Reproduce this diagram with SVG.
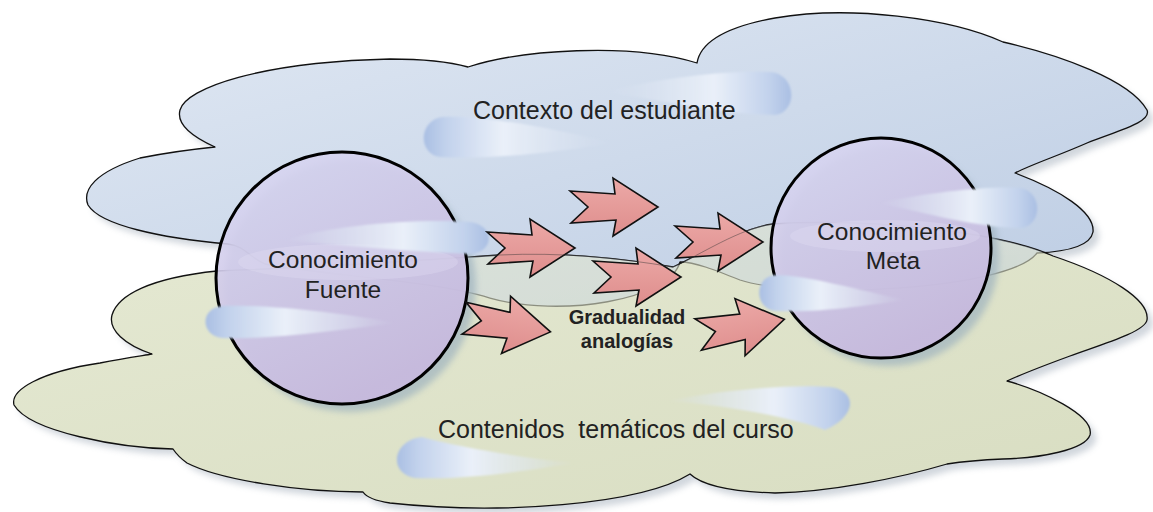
<svg xmlns="http://www.w3.org/2000/svg" width="1153" height="512" viewBox="0 0 1153 512">
<defs>
<style>
.outline{stroke:#111;stroke-width:1.3;stroke-linejoin:round}
.txt{font-family:"Liberation Sans",Arial,sans-serif;fill:#222;font-size:25px}
.lbl{font-family:"Liberation Sans",Arial,sans-serif;fill:#222;font-size:24.5px;text-anchor:middle}
.bold{font-family:"Liberation Sans",Arial,sans-serif;fill:#222;font-size:20px;font-weight:bold;text-anchor:middle}
.arrow{fill:url(#gArrow);stroke:#111;stroke-width:1.6;stroke-linejoin:miter}
.sphere{stroke:#000;stroke-width:3;fill:url(#gSphere)}
.shadow{fill:#9aa6b4;opacity:0.45}
.sphshadow{fill:#9fb3bf;opacity:0.7}
.swL{fill:url(#gSwL);filter:url(#soft)}
.swR{fill:url(#gSwR);filter:url(#soft)}
</style>
<linearGradient id="gBlue" x1="0" y1="0" x2="1" y2="1">
<stop offset="0" stop-color="#e0e8f3"/><stop offset="1" stop-color="#bccce3"/>
</linearGradient>
<linearGradient id="gGreen" x1="0" y1="0" x2="1" y2="1">
<stop offset="0" stop-color="#e5e9d3"/><stop offset="1" stop-color="#d8ddc1"/>
</linearGradient>
<linearGradient id="gSphere" x1="0" y1="0" x2="0.5" y2="1">
<stop offset="0" stop-color="#d9d9f3"/><stop offset="1" stop-color="#c8b9df"/>
</linearGradient>
<linearGradient id="gArrow" x1="0" y1="0" x2="0" y2="1">
<stop offset="0" stop-color="#eca9a7"/><stop offset="1" stop-color="#de8d8c"/>
</linearGradient>
<linearGradient id="gSwL" x1="0" y1="0" x2="1" y2="0">
<stop offset="0" stop-color="#aabfe3"/><stop offset="0.12" stop-color="#c2d2ec"/><stop offset="0.42" stop-color="#eaf0f9"/><stop offset="0.75" stop-color="#dfe7f3" stop-opacity="0.5"/><stop offset="1" stop-color="#d8e1f0" stop-opacity="0"/>
</linearGradient>
<linearGradient id="gSwR" x1="1" y1="0" x2="0" y2="0">
<stop offset="0" stop-color="#aabfe3"/><stop offset="0.12" stop-color="#c2d2ec"/><stop offset="0.42" stop-color="#eaf0f9"/><stop offset="0.75" stop-color="#dfe7f3" stop-opacity="0.5"/><stop offset="1" stop-color="#d8e1f0" stop-opacity="0"/>
</linearGradient>
<filter id="blur3" x="-10%" y="-10%" width="120%" height="120%"><feGaussianBlur stdDeviation="3"/></filter>
<filter id="soft" x="-10%" y="-30%" width="120%" height="160%"><feGaussianBlur stdDeviation="1"/></filter>
<path id="pBlue" d="M215,147 C195,138 176,125 180,110 C186,88 260,62 390,59 C420,59 450,62 468,67 C520,50 630,42 697,63 C700,45 720,28 775,18 C850,5 950,18 1003,42 C1060,55 1130,80 1147,110 C1152,122 1120,130 1087,143 C1060,155 1030,165 1015,173 C1060,190 1095,212 1093,232 C1090,248 1060,252 1037,253 C1010,290 800,300 740,280 C715,270 695,262 680,262 C670,300 560,318 490,298 C430,280 320,275 265,264 C250,258 245,246 228,244 C160,238 100,225 88,205 C82,190 95,172 140,158 C170,152 195,149 215,147 Z"/>
<path id="pGreen" d="M217,271 C300,268 400,262 500,255 C560,252 620,258 673,267 C700,255 740,228 773,224 C870,218 1000,232 1053,256 C1110,275 1150,300 1147,320 C1145,332 1100,345 1070,356 C1040,367 1020,375 1007,381 C1040,390 1095,415 1090,435 C1085,450 1040,458 1003,459 C980,460 960,462 947,464 C900,478 830,492 775,493 C740,492 705,488 690,474 C640,505 500,515 390,503 C370,500 365,495 363,492 C300,492 220,480 187,463 C180,458 175,452 173,449 C120,448 30,432 14,405 C10,390 40,372 100,363 C125,358 140,356 152,354 C125,345 108,330 112,315 C118,295 150,278 217,271 Z"/>
<clipPath id="clipGreen"><use href="#pGreen"/></clipPath>
<path id="arr" d="M-44,-16 L1,-13 L-1,-29 L44,0 L-1,29 L2,13 L-43,16 L-26,0 Z"/>
</defs>

<g id="cloud-context">
<use href="#pBlue" class="shadow" transform="translate(6,6)" filter="url(#blur3)"/>
<use href="#pBlue" fill="url(#gBlue)" class="outline"/>
<path class="swR" d="M606,92 C650,80 720,70 770,72 C797,74 798,112 775,115 C720,114 660,100 606,92 Z"/>
<path class="swL" d="M612,143 C560,130 480,114 442,117 C418,121 418,154 440,157 C500,160 570,150 612,143 Z"/>
<text class="txt" x="473" y="119">Contexto del estudiante</text>
</g>

<g id="cloud-contents">
<use href="#pGreen" class="shadow" transform="translate(6,6)" filter="url(#blur3)"/>
<use href="#pGreen" fill="url(#gGreen)" class="outline"/>
<use href="#pBlue" fill="url(#gBlue)" class="outline" opacity="0.4" clip-path="url(#clipGreen)"/>
<path class="swR" d="M668,401 C720,390 790,384 830,387 C857,390 858,416 825,430 C800,420 730,405 668,401 Z"/>
<path class="swL" d="M575,463 C520,458 450,445 422,437 C392,440 388,474 415,478 C470,480 530,470 575,463 Z"/>
<text class="txt" x="438" y="438" xml:space="preserve" style="white-space:pre">Contenidos  temáticos del curso</text>
</g>

<g id="sphere-source">
<circle class="sphshadow" cx="350" cy="286" r="126" filter="url(#blur3)"/>
<circle class="sphere" cx="342" cy="278" r="126" fill-opacity="0.9"/>
<ellipse cx="348" cy="262" rx="110" ry="18" fill="#e4e0f6" opacity="0.3"/>
<path class="swR" d="M285,240 C330,225 420,218 470,222 C495,225 495,252 470,254 C420,252 340,246 285,240 Z"/>
<path class="swL" d="M395,323 C340,312 260,304 222,306 C200,308 200,335 222,338 C270,340 340,330 395,323 Z"/>
<text class="lbl" x="343" y="268">Conocimiento</text>
<text class="lbl" x="343" y="298">Fuente</text>
</g>

<g id="sphere-target">
<circle class="sphshadow" cx="889" cy="256" r="110" filter="url(#blur3)"/>
<circle class="sphere" cx="881" cy="248" r="110" fill-opacity="0.9"/>
<ellipse cx="885" cy="236" rx="95" ry="16" fill="#e4e0f6" opacity="0.3"/>
<path class="swR" d="M880,203 C930,192 990,186 1020,188 C1043,191 1043,226 1020,228 C980,228 920,212 880,203 Z"/>
<path class="swL" d="M905,300 C860,290 800,274 775,275 C754,277 754,308 775,311 C820,313 870,305 905,300 Z"/>
<text class="lbl" x="892" y="240">Conocimiento</text>
<text class="lbl" x="893" y="269">Meta</text>
</g>

<g id="connectors">
<use href="#arr" class="arrow" transform="translate(531,248)"/>
<use href="#arr" class="arrow" transform="translate(614,207)"/>
<use href="#arr" class="arrow" transform="translate(637,277)"/>
<use href="#arr" class="arrow" transform="translate(719,242)"/>
<use href="#arr" class="arrow" transform="translate(507,325) rotate(9)"/>
<use href="#arr" class="arrow" transform="translate(741,327) rotate(-10)"/>
<path d="M468,257 C480,256 490,255.5 500,255 C560,252 620,258 673,267 C700,255 740,228 773,224" fill="none" stroke="#333" stroke-width="1" opacity="0.45"/>
</g>

<g id="label-gradualidad">
<text class="bold" x="627" y="324">Gradualidad</text>
<text class="bold" x="627" y="348">analogías</text>
</g>
</svg>
